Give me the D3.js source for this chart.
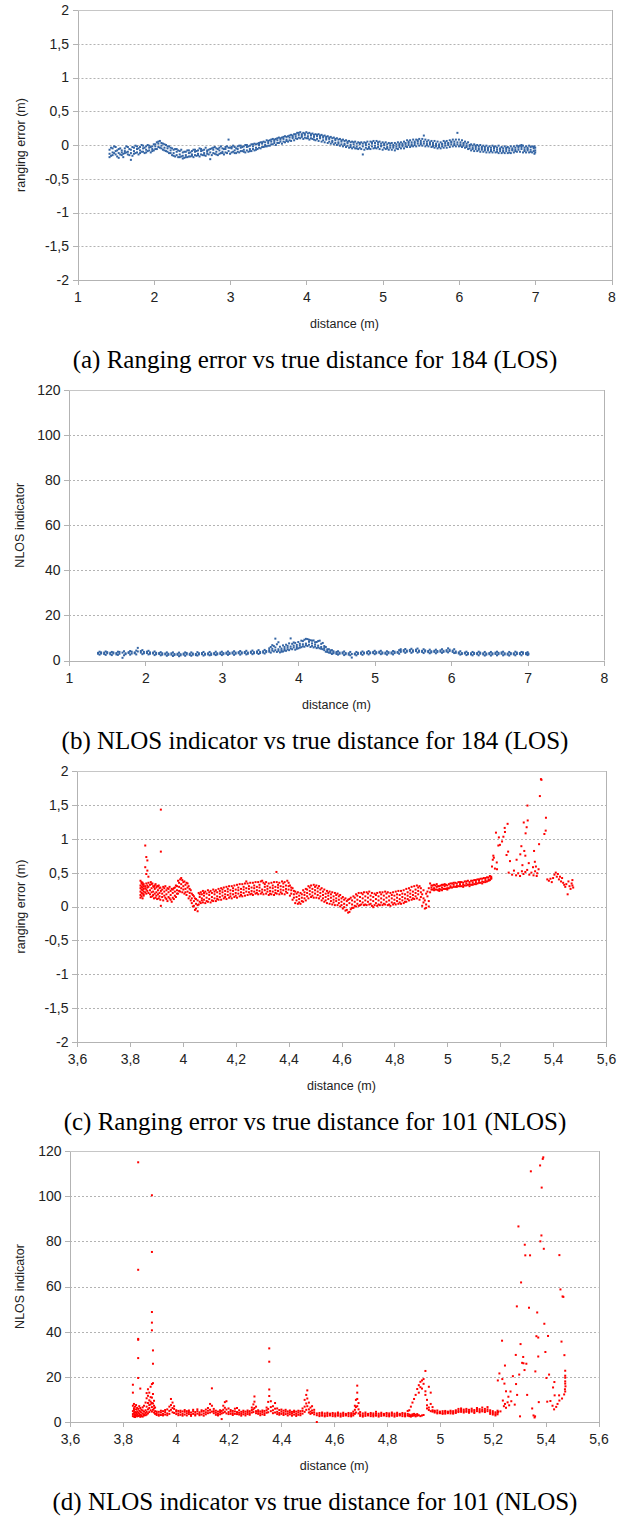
<!DOCTYPE html>
<html><head><meta charset="utf-8">
<script src="https://cdn.jsdelivr.net/npm/d3@7"></script>
<style>body{margin:0;background:#fff}svg{display:block}</style>
</head><body>
<script>
// ---------- tick values ----------
const xTicksLOS = [1, 2, 3, 4, 5, 6, 7, 8];
const xTicksNLOS = [3.6, 3.8, 4, 4.2, 4.4, 4.6, 4.8, 5, 5.2, 5.4, 5.6];
const yTicksErr = [-2, -1.5, -1, -0.5, 0, 0.5, 1, 1.5, 2];
const yTicksInd = [0, 20, 40, 60, 80, 100, 120];
const captions = [
  "(a) Ranging error vs true distance for 184 (LOS)",
  "(b) NLOS indicator vs true distance for 184 (LOS)",
  "(c) Ranging error vs true distance for 101 (NLOS)",
  "(d) NLOS indicator vs true distance for 101 (NLOS)"
];
const yTitleErr = "ranging error (m)";
const yTitleInd = "NLOS indicator";
const xTitle = "distance (m)";

// ---------- (a) ranging error, LOS : [distance, error, error, ...] ----------
const errLOS = [
[1.42,-.07,-.13,-.18],[1.46,-.11,-.05,-.15],[1.50,-.09,-.14,-.03],[1.54,-.12,-.06,-.19],[1.58,-.08,-.15,-.11],
[1.62,-.05,-.12,-.09],[1.66,-.10,-.03,-.14],[1.70,-.07,-.12,-.22],[1.74,-.09,-.04,-.13],[1.78,-.06,-.11,-.02],
[1.82,-.08,-.03,-.12],[1.86,-.05,-.10,-.01],[1.90,-.07,-.02,-.11],[1.94,-.04,-.08,-.01],[1.98,-.06,-.02,-.09],
[2.02,-.02,-.06,.01],[2.06,.02,-.03,.05],[2.10,-.01,.03,-.05],[2.14,-.04,.01,-.08],[2.18,-.05,-.10,-.02],
[2.22,-.08,-.12,-.04],[2.26,-.12,-.07,-.16],[2.30,-.10,-.15,-.06],[2.34,-.14,-.09,-.18],[2.38,-.11,-.16,-.20],
[2.42,-.15,-.10,-.18],[2.46,-.12,-.17,-.08],[2.50,-.14,-.09,-.16],[2.54,-.10,-.15,-.07],[2.58,-.13,-.08,-.15],
[2.62,-.09,-.14,-.06],[2.66,-.12,-.07,-.15],[2.70,-.08,-.13,-.10],[2.74,-.11,-.06,-.21],[2.78,-.07,-.12,-.04],
[2.82,-.10,-.05,-.14],[2.86,-.08,-.13,-.04],[2.90,-.10,-.05,-.12],[2.94,-.06,-.11,-.03],[2.98,-.09,-.04,.08],
[3.02,-.05,-.11,-.03],[3.06,-.08,-.03,-.12],[3.10,-.06,-.10,-.02],[3.14,-.04,-.09,-.01],[3.18,-.07,-.02,-.10],
[3.22,-.03,-.08,.00],[3.26,-.06,-.01,-.09],[3.30,-.02,-.06,.01],[3.34,-.04,.01,-.07],[3.38,.00,-.04,.03],
[3.42,.02,-.03,.04],[3.46,.00,.04,-.02],[3.50,.03,.06,-.01],[3.54,.05,.01,.08],[3.58,.03,.08,.06],
[3.62,.07,.03,.10],[3.66,.05,.10,.08],[3.70,.09,.05,.12],[3.74,.08,.12,.06],[3.78,.11,.07,.14],
[3.82,.10,.14,.12],[3.86,.13,.10,.16],[3.90,.15,.11,.18],[3.94,.12,.16,.14],[3.98,.15,.11,.17],
[4.02,.13,.17,.10],[4.06,.14,.10,.16],[4.10,.12,.15,.08],[4.14,.13,.09,.15],[4.18,.10,.14,.12],
[4.22,.11,.07,.13],[4.26,.08,.12,.10],[4.30,.09,.05,.11],[4.34,.06,.10,.04],[4.38,.07,.03,.09],
[4.42,.04,.08,.02],[4.46,.05,.01,.07],[4.50,.02,.06,.00],[4.54,.03,-.01,.05],[4.58,.00,.04,-.03],
[4.62,.01,-.03,.04],[4.66,-.02,.02,-.05],[4.70,.01,-.04,.03],[4.74,-.02,.02,-.14],[4.78,.00,-.04,.03],
[4.82,-.03,.01,-.05],[4.86,.02,-.02,.04],[4.90,-.01,.03,-.04],[4.94,.01,-.03,.04],[4.98,-.02,.02,-.01],
[5.02,.00,-.04,.02],[5.06,-.03,.01,-.05],[5.10,-.01,-.04,.02],[5.14,-.04,.00,-.02],[5.18,-.02,-.05,.01],
[5.22,.00,-.03,.02],[5.26,-.02,.02,.00],[5.30,.01,-.02,.03],[5.34,.03,.00,.05],[5.38,.01,.04,-.01],
[5.42,.03,.00,.05],[5.46,.05,.02,.07],[5.50,.03,.06,.01],[5.54,.05,.02,.14],[5.58,.02,.05,.00],
[5.62,.04,.01,.02],[5.66,.00,.03,-.02],[5.70,.02,-.02,.00],[5.74,-.01,.01,-.03],[5.78,.01,-.02,.02],
[5.82,.02,-.01,.04],[5.86,.00,.03,.02],[5.90,.04,.01,.05],[5.94,.02,.05,.00],[5.98,.04,.01,.18],
[6.02,.01,.04,-.01],[6.06,.03,-.01,.01],[6.10,-.01,.02,-.03],[6.14,-.02,-.05,.00],[6.18,-.04,-.01,-.06],
[6.22,-.03,-.06,-.01],[6.26,-.05,-.02,-.07],[6.30,-.03,-.07,-.05],[6.34,-.06,-.03,-.08],[6.38,-.04,-.08,-.06],
[6.42,-.07,-.04,-.09],[6.46,-.05,-.08,-.03],[6.50,-.07,-.04,-.10],[6.54,-.05,-.09,-.06],[6.58,-.08,-.05,-.10],
[6.62,-.06,-.09,-.04],[6.66,-.08,-.05,-.11],[6.70,-.05,-.08,-.07],[6.74,-.07,-.04,-.09],[6.78,-.04,-.07,-.02],
[6.82,-.06,-.03,.00],[6.86,-.07,-.04,-.09],[6.90,-.04,-.08,-.06],[6.94,-.07,-.03,-.10],[6.98,-.05,-.09,-.03],
[7.00,-.08,-.04,-.11],
[1.44,-.16,-.04],[1.48,-.02,-.12],[1.52,-.17,-.08],[1.56,-.05,-.14],[1.60,-.13,-.18],[1.64,-.02,-.11],[1.68,-.15,-.06],
[1.72,-.03,-.16],[1.76,-.12,-.01],[1.80,-.14,-.05],[1.84,.00,-.10],[1.88,-.12,-.04],[1.92,-.09,.00],[1.96,-.11,-.03],
[2.00,.01,-.08],[2.04,-.06,.04],[2.08,-.04,.06],[2.12,.02,-.07],[2.16,-.09,.00],[2.20,-.02,-.12],[2.24,-.15,-.05],
[2.28,-.06,-.17],[2.32,-.18,-.08],[2.36,-.07,-.17],[2.40,-.19,-.10],[2.44,-.08,-.18],[2.48,-.17,-.11],[2.52,-.07,-.18],
[2.56,-.16,-.09],[2.60,-.05,-.17],[2.64,-.15,-.08],[2.68,-.04,-.16],[2.72,-.14,-.07],[2.76,-.05,-.15],[2.80,-.13,-.03],
[2.84,-.06,-.15],[2.88,-.12,-.02],[2.92,-.14,-.06],[2.96,-.02,-.12],[3.00,-.13,-.04],[3.04,-.01,-.10],[3.08,-.12,-.05],
[3.12,-.01,-.11],[3.16,-.09,-.03],[3.20,-.11,.00],[3.24,-.02,-.10],[3.28,-.09,.01],[3.32,.02,-.08],[3.36,-.06,.02],
[3.40,.04,-.05],[3.44,-.03,.05],[3.48,.07,-.02],[3.52,-.01,.07],[3.56,.09,.01],[3.60,.00,.09],[3.64,.11,.03],
[3.68,.02,.11],[3.72,.13,.04],[3.76,.05,.13],[3.80,.15,.06],[3.84,.07,.16],[3.88,.18,.09],[3.92,.10,.19],
[3.96,.18,.09],[4.00,.10,.19],[4.04,.18,.08],[4.08,.09,.17],[4.12,.16,.07],[4.16,.06,.16],[4.20,.15,.05],
[4.24,.04,.14],[4.28,.13,.03],[4.32,.02,.12],[4.36,.11,.01],[4.40,.00,.10],[4.44,.09,-.01],[4.48,-.02,.08],
[4.52,.07,-.03],[4.56,-.04,.06],[4.60,.05,-.05],[4.64,-.05,.05],[4.68,.04,-.06],[4.72,-.06,.04],[4.76,.04,-.07],
[4.80,-.06,.05],[4.84,.05,-.06],[4.88,-.05,.06],[4.92,.06,-.05],[4.96,-.06,.05],[5.00,.04,-.07],[5.04,-.06,.04],
[5.08,.03,-.07],[5.12,-.07,.03],[5.16,.03,-.08],[5.20,-.06,.04],[5.24,.04,-.05],[5.28,-.05,.05],[5.32,.07,-.03],
[5.36,-.03,.07],[5.40,.08,-.02],[5.44,-.02,.08],[5.48,.09,-.01],[5.52,-.01,.09],[5.56,.08,-.02],[5.60,-.02,.07],
[5.64,.06,-.03],[5.68,-.04,.06],[5.72,.05,-.05],[5.76,-.05,.04],[5.80,.06,-.04],[5.84,-.04,.06],[5.88,.07,-.03],
[5.92,-.02,.08],[5.96,.08,-.02],[6.00,-.02,.08],[6.04,.07,-.03],[6.08,-.04,.05],[6.12,.04,-.06],[6.16,-.08,.01],
[6.20,.01,-.09],[6.24,-.09,.00],[6.28,.00,-.10],[6.32,-.10,-.01],[6.36,-.01,-.11],[6.40,-.11,-.02],[6.44,-.01,-.11],
[6.48,-.11,-.02],[6.52,-.01,-.12],[6.56,-.12,-.03],[6.60,-.02,-.12],[6.64,-.12,-.03],[6.68,-.02,-.12],[6.72,-.11,-.02],
[6.76,-.01,-.10],[6.80,-.10,-.01],[6.84,-.01,-.11],[6.88,-.11,-.02],[6.92,-.01,-.11],[6.96,-.11,-.02],[6.99,-.02,-.13]
];

// ---------- (b) NLOS indicator, LOS ----------
const indLOS = [
[1.38,3.4,3.0],[1.42,3.1,3.6],[1.46,3.5,2.9],[1.50,3.2,3.7],[1.54,2.8,3.4],[1.58,3.6,3.1],[1.62,3.3,2.7],
[1.66,3.0,3.8],[1.70,3.5,1.2],[1.74,3.2,2.8],[1.78,3.7,3.3],[1.82,3.1,3.9],[1.86,3.6,3.2],[1.90,4.0,5.6],
[1.94,3.5,4.2],[1.98,3.8,3.2],[2.02,3.3,3.9],[2.06,3.6,3.0],[2.10,3.1,3.5],[2.14,3.4,2.8],[2.18,2.9,3.3],
[2.22,3.2,2.6],[2.26,2.7,3.1],[2.30,3.0,2.5],[2.34,2.6,3.2],[2.38,2.9,2.4],[2.42,2.5,3.0],[2.46,2.8,2.3],
[2.50,3.1,2.6],[2.54,2.7,3.3],[2.58,3.0,2.5],[2.62,2.6,3.1],[2.66,2.9,2.4],[2.70,3.2,2.7],[2.74,2.8,3.3],
[2.78,3.0,2.6],[2.82,2.7,3.2],[2.86,3.1,2.5],[2.90,2.8,3.3],[2.94,3.2,2.7],[2.98,2.9,3.5],[3.02,3.3,2.8],
[3.06,3.0,3.5],[3.10,3.4,2.9],[3.14,3.1,3.6],[3.18,3.5,3.0],[3.22,3.2,3.7],[3.26,3.6,3.1],[3.30,3.3,3.8],
[3.34,3.0,3.5],[3.38,3.4,3.9],[3.42,3.7,3.2],[3.46,3.4,4.0],[3.50,3.8,3.3],[3.54,3.5,4.1],[3.58,4.2,3.7],
[3.62,4.6,3.9,5.4],[3.66,5.2,4.4,6.8],[3.70,9.7,5.8,4.6],[3.74,5.0,8.1,4.3],[3.78,4.6,5.3,3.9],
[3.82,5.1,4.4,6.0],[3.86,5.7,4.9,6.5],[3.90,6.2,5.3,9.8],[3.94,5.8,8.0,6.6],[3.98,6.0,5.2,6.9],
[4.02,6.6,5.7,7.4],[4.06,7.2,6.3,8.6],[4.10,9.6,7.5,6.8],[4.14,8.3,7.0,9.2],[4.18,7.6,6.5,8.8],
[4.22,7.1,6.2,8.1],[4.26,6.6,8.6,5.8],[4.30,7.4,6.0,5.2],[4.34,5.5,4.6,6.4],[4.38,4.4,3.8,5.0],
[4.42,3.9,4.5,3.4],[4.46,3.6,4.1,3.2],[4.50,3.3,3.8,2.9],[4.54,3.5,3.0],[4.58,3.1,3.6],[4.62,2.8,3.3],
[4.66,3.2,2.6],[4.70,2.9,1.3],[4.74,3.1,2.7],[4.78,3.4,2.9],[4.82,3.0,3.5],[4.86,3.5,3.1],[4.90,3.2,3.7],
[4.94,3.6,3.2],[4.98,3.3,3.8],[5.02,3.7,3.2],[5.06,3.4,3.9],[5.10,3.1,3.6],[5.14,3.5,3.0],[5.18,3.2,3.7],
[5.22,3.6,3.1],[5.26,3.3,3.9],[5.30,3.8,3.4],[5.34,4.3,3.8,5.0],[5.38,4.0,4.6],[5.42,4.4,3.9],[5.46,4.1,4.7],
[5.50,4.5,3.9],[5.54,4.2,4.8],[5.58,3.9,4.4],[5.62,4.3,3.8],[5.66,4.0,4.5],[5.70,3.7,4.2],[5.74,4.1,3.6],
[5.78,3.8,4.3],[5.82,4.2,3.7],[5.86,3.9,4.5],[5.90,4.3,3.8],[5.94,4.6,4.0],[5.98,4.8,4.2],[6.02,4.4,3.8],
[6.06,4.0,3.4],[6.10,3.6,3.1],[6.14,3.3,2.9],[6.18,3.1,3.5],[6.22,2.8,3.3],[6.26,3.2,2.7],[6.30,2.9,3.4],
[6.34,3.3,2.8],[6.38,3.0,3.5],[6.42,2.7,3.2],[6.46,3.1,2.6],[6.50,2.8,3.3],[6.54,3.2,2.7],[6.58,2.9,3.5],
[6.62,3.4,2.8],[6.66,3.0,3.6],[6.70,2.7,3.2],[6.74,3.1,2.6],[6.78,2.8,3.3],[6.82,3.2,2.7],[6.86,2.9,3.5],
[6.90,3.3,2.8],[6.94,3.0,3.6],[6.98,2.8,3.3],[7.01,3.1,2.7],
[1.40,2.6,3.9],[1.48,4.0,2.5],[1.56,2.4,3.8],[1.64,3.9,2.5],[1.72,2.3,4.1],[1.80,4.2,2.6],[1.88,2.7,4.4],
[1.96,4.6,2.8],[2.04,2.7,4.3],[2.12,4.0,2.4],[2.20,2.3,3.7],[2.28,3.6,2.1],[2.36,2.0,3.6],[2.44,3.5,1.9],
[2.52,2.1,3.6],[2.60,3.6,2.1],[2.68,2.2,3.7],[2.76,3.8,2.2],[2.84,2.3,3.8],[2.92,3.9,2.4],[3.00,2.4,3.9],
[3.08,4.0,2.5],[3.16,2.5,4.1],[3.24,4.2,2.6],[3.32,2.7,4.3],[3.40,4.4,2.8],[3.48,2.9,4.6],[3.56,4.7,3.1],
[3.64,3.5,6.0],[3.68,6.4,4.0],[3.72,3.8,7.2],[3.76,6.1,3.6],[3.80,4.0,6.7],[3.84,7.0,4.3],[3.88,4.6,7.6],
[3.92,7.4,5.0],[3.96,4.8,7.8],[4.00,8.2,5.4],[4.04,5.9,8.8],[4.08,9.2,6.1],[4.12,6.4,9.5],[4.16,9.0,6.0],
[4.20,5.8,8.9],[4.24,8.2,5.5],[4.28,8.8,5.4],[4.32,5.0,7.8],[4.36,6.0,3.9],[4.40,3.5,5.0],[4.44,4.6,2.9],
[4.52,2.6,4.1],[4.60,4.0,2.4],[4.68,2.3,3.8],[4.76,3.8,2.3],[4.84,2.5,4.0],[4.92,4.2,2.7],[5.00,2.8,4.3],
[5.08,4.3,2.8],[5.16,2.6,4.1],[5.24,4.2,2.7],[5.32,3.0,4.6],[5.40,5.1,3.4],[5.48,3.4,5.2],[5.56,5.3,3.5],
[5.64,3.3,5.0],[5.72,4.8,3.2],[5.80,3.2,4.8],[5.88,5.0,3.4],[5.96,3.6,5.4],[6.04,5.0,3.3],[6.12,4.1,2.6],
[6.20,2.4,3.9],[6.28,3.8,2.3],[6.36,2.3,3.9],[6.44,3.8,2.2],[6.52,2.2,3.8],[6.60,3.9,2.3],[6.68,2.3,3.9],
[6.76,3.8,2.2],[6.84,2.3,3.9],[6.92,3.8,2.3],[7.00,2.4,3.7]
];

// ---------- (c) ranging error, NLOS ----------
const errNLOS = [
[3.840,.13,.22,.31,.38,.17,.27],[3.844,.15,.25,.34,.20,.29,.36],[3.848,.12,.19,.28,.35,.24,.32],[3.852,.18,.26,.33,.22,.30,.16],
[3.858,.21,.30,.27,.90,.58],[3.862,.25,.34,.19,.73,.48],[3.866,.23,.31,.28,.68,.53],[3.870,.20,.29,.35,.44],
[3.876,.24,.32,.18],[3.882,.27,.21,.33],[3.888,.22,.30,.17],[3.894,.26,.19,.31],[3.900,.21,.28,.16],[3.906,.24,.18,.30],
[3.912,.20,.27,.15],[3.917,.23,1.43,.81,.01],[3.922,.19,.25,.14],[3.930,.22,.16,.27],[3.938,.18,.24,.11],[3.946,.21,.14,.26],
[3.954,.17,.23,.10],[3.962,.20,.13,.25],[3.970,.16,.22,.28],[3.978,.24,.30,.19],[3.986,.29,.35,.23],[3.994,.33,.27,.42],
[4.002,.30,.36,.25],[4.010,.26,.32,.21],[4.018,.28,.22,.34],[4.026,.20,.26,.15],[4.034,.12,.19,.05],[4.042,.08,.15,.01],
[4.050,.04,-.03,.11],[4.056,.09,-.07,.02],[4.064,.14,.07,.18],[4.072,.12,.18,.09],[4.080,.16,.10,.20],[4.090,.13,.19,.08],
[4.100,.17,.11,.21],[4.110,.14,.20,.09],[4.120,.18,.12,.22],[4.130,.15,.21,.11],[4.140,.19,.14,.23],[4.150,.21,.16,.25],
[4.160,.18,.23,.14],[4.170,.22,.17,.26],[4.180,.19,.24,.15],[4.190,.23,.18,.27],[4.200,.20,.25,.16],[4.210,.24,.19,.28],
[4.220,.21,.26,.17],[4.230,.25,.20,.29],[4.240,.22,.27,.37],[4.250,.26,.21,.30],[4.260,.23,.28,.19],[4.270,.27,.22,.31],
[4.280,.24,.29,.20],[4.290,.28,.23,.32],[4.300,.25,.21,.38],[4.310,.29,.24,.33],[4.320,.26,.22,.30],[4.330,.23,.28,.19],
[4.340,.27,.31,.22],[4.350,.24,.29,.20],[4.354,.51],[4.360,.28,.23,.32],[4.370,.25,.30,.21],[4.380,.29,.24,.34],
[4.390,.26,.31,.22],[4.400,.30,.25,.35],[4.410,.24,.19,.28],[4.420,.18,.13,.23],[4.430,.14,.09,.19],[4.440,.16,.11,.06],
[4.450,.13,.18,.08],[4.460,.17,.12,.21],[4.470,.20,.15,.25],[4.480,.23,.18,.28],[4.490,.21,.26,.16],[4.500,.24,.19,.29],
[4.510,.22,.27,.17],[4.520,.20,.25,.15],[4.530,.17,.22,.12],[4.540,.14,.19,.09],[4.550,.16,.11,.20],[4.560,.13,.08,.18],
[4.570,.15,.10,.06],[4.580,.12,.17,.08],[4.590,.10,.15,.05],[4.600,.07,.12,.02],[4.610,.04,.10,-.01],[4.620,.02,.08,-.05],
[4.630,.05,-.08,.11],[4.640,.03,.09,-.02],[4.650,.07,.13,.01],[4.660,.10,.04,.16],[4.670,.08,.14,.02],[4.680,.12,.06,.18],
[4.690,.09,.15,.03],[4.700,.13,.07,.19],[4.710,.10,.16,.04],[4.720,.08,.14,-.01],[4.730,.11,.05,.17],[4.740,.09,.15,.03],
[4.750,.12,.06,.18],[4.760,.10,.16,.04],[4.770,.13,.07,.19],[4.780,.09,.15,.03],[4.790,.12,.06,.17],[4.800,.10,.16,.05],
[4.810,.13,.08,.18],[4.820,.11,.17,.06],[4.830,.14,.09,.19],[4.840,.12,.18,.07],[4.850,.16,.11,.21],[4.860,.19,.14,.24],
[4.870,.17,.22,.12],[4.880,.20,.15,.25],[4.890,.18,.23,.28],[4.900,.21,.14,.27],[4.910,.12,.24,.06],[4.920,.03,.19,-.02],
[4.930,.08,.27,.00],[4.940,.28,.31,.25],[4.950,.27,.32,.24],[4.960,.29,.25,.33],[4.970,.26,.30,.23],[4.980,.28,.24,.32],
[4.990,.30,.26,.33],[5.000,.27,.31,.25],[5.012,.30,.34,.28],[5.024,.32,.29,.35],[5.036,.31,.34,.29],[5.048,.33,.30,.36],
[5.060,.32,.35,.29],[5.072,.34,.31,.37],[5.084,.33,.36,.30],[5.096,.35,.38,.32],[5.108,.36,.33,.39],[5.120,.35,.38,.40],
[5.132,.37,.34,.41],[5.144,.39,.36,.42],[5.156,.40,.43,.38],[5.166,.42,.41,.44],
[3.879,.14,.36],[3.885,.34,.15],[3.891,.12,.29],[3.897,.33,.13],[3.903,.11,.30],[3.909,.31,.12],[3.915,.10,.28],
[3.926,.29,.09],[3.934,.13,.30],[3.942,.27,.08],[3.950,.12,.29],[3.958,.26,.07],[3.966,.11,.27],[3.974,.31,.14],
[3.982,.19,.38],[3.990,.40,.22],[3.998,.21,.39],[4.006,.37,.19],[4.014,.17,.35],[4.022,.30,.12],[4.030,.09,.24],
[4.038,.00,.17],[4.046,.12,-.05],[4.060,.03,.20],[4.068,.21,.05],[4.076,.06,.23],[4.085,.22,.05],[4.095,.07,.24],
[4.105,.23,.06],[4.115,.08,.25],[4.125,.24,.08],[4.135,.10,.26],[4.145,.27,.10],[4.155,.12,.28],[4.165,.29,.11],
[4.175,.13,.30],[4.185,.30,.12],[4.195,.14,.31],[4.205,.32,.13],[4.215,.15,.33],[4.225,.33,.15],[4.235,.16,.34],
[4.245,.34,.17],[4.255,.18,.35],[4.265,.35,.17],[4.275,.19,.36],[4.285,.36,.18],[4.295,.19,.37],[4.305,.35,.18],
[4.315,.19,.36],[4.325,.34,.17],[4.335,.18,.35],[4.345,.36,.17],[4.355,.19,.36],[4.365,.35,.18],[4.375,.19,.37],
[4.385,.36,.18],[4.395,.20,.38],[4.405,.31,.16],[4.415,.10,.27],[4.425,.22,.05],[4.435,.04,.21],[4.445,.20,.04],
[4.455,.07,.24],[4.465,.26,.09],[4.475,.12,.30],[4.485,.31,.14],[4.495,.13,.32],[4.505,.31,.13],[4.515,.12,.30],
[4.525,.27,.09],[4.535,.07,.25],[4.545,.23,.05],[4.555,.04,.22],[4.565,.21,.03],[4.575,.02,.20],[4.585,.19,.02],
[4.595,.00,.17],[4.605,.14,-.03],[4.615,-.06,.12],[4.625,.10,-.09],[4.635,-.04,.13],[4.645,.15,-.02],[4.655,.00,.18],
[4.665,.20,.01],[4.675,.03,.20],[4.685,.21,.02],[4.695,.02,.21],[4.705,.22,.03],[4.715,.01,.20],[4.725,.19,.02],
[4.735,.01,.20],[4.745,.21,.02],[4.755,.02,.21],[4.765,.22,.03],[4.775,.02,.21],[4.785,.20,.01],[4.795,.03,.21],
[4.805,.22,.03],[4.815,.04,.23],[4.825,.23,.04],[4.835,.05,.24],[4.845,.26,.07],[4.855,.09,.27],[4.865,.29,.10],
[4.875,.11,.30],[4.885,.31,.12],[4.895,.10,.30],[4.905,.18,.01],[4.915,.09,-.03],[4.925,.15,.22],[4.935,.21,.34],
[4.945,.31,.25],[4.955,.25,.31],[4.965,.30,.24],[4.975,.25,.31],[4.985,.32,.26],[4.995,.26,.32],[5.006,.33,.27],
[5.018,.28,.34],[5.030,.35,.29],[5.042,.30,.36],[5.054,.36,.30],[5.066,.31,.37],[5.078,.38,.32],[5.090,.32,.38],
[5.102,.39,.33],[5.114,.34,.40],[5.126,.41,.35],[5.138,.36,.42],[5.150,.43,.37],[5.161,.39,.45]
];
const errNLOSScatter = [
[5.169,.59],[5.172,.69],[5.174,.75],[5.176,.72],[5.180,.56],[5.184,1.09],[5.187,.65],[5.188,.55],[5.193,.90],[5.195,1.02],
[5.199,.91],[5.207,.96],[5.212,1.03],[5.217,1.16],[5.218,1.10],[5.224,.76],[5.228,1.22],[5.230,.81],[5.237,.67],[5.262,.69],
[5.276,.77],[5.280,.89],[5.284,.61],[5.289,1.24],[5.291,.82],[5.295,.75],[5.296,1.08],[5.300,1.17],[5.303,1.49],[5.304,1.27],
[5.308,.64],[5.324,.58],[5.328,.82],[5.331,.66],[5.335,.59],[5.347,.92],[5.350,1.63],[5.354,1.88],[5.356,1.87],[5.367,1.07],
[5.372,1.12],[5.373,1.31],
[5.232,.50],[5.245,.47],[5.252,.53],[5.260,.46],[5.268,.49],[5.275,.45],[5.282,.52],[5.288,.48],[5.295,.51],[5.302,.54],
[5.310,.47],[5.318,.50],[5.326,.46],[5.332,.52],[5.340,.49],[5.345,.55],[5.338,.45],
[5.378,.40],[5.384,.38],[5.390,.41],[5.395,.36],[5.400,.42],[5.405,.47],[5.410,.50],[5.414,.44],[5.418,.48],[5.422,.40],
[5.426,.44],[5.430,.37],[5.434,.42],[5.438,.35],[5.442,.32],[5.446,.29],[5.450,.33],[5.455,.18],[5.458,.37],[5.462,.30],
[5.466,.26],[5.470,.34],[5.473,.39],[5.476,.28],[5.473,.31]
];

// ---------- (d) NLOS indicator, NLOS ----------
const indNLOS = [
[3.838,2.6,4.8,7.2,3.5,16.5,13.0],[3.842,3.9,6.1,2.4,5.3,8.0],[3.846,2.2,4.4,6.8,3.1],[3.850,5.6,2.9,4.0,7.5],
[3.854,3.4,6.3,2.5,4.7],[3.858,4.1,2.7,5.8,36.4,28.3,19.5,67.4,115.0,36.8],[3.862,2.8,5.0,7.0,3.6],
[3.866,4.5,2.3,6.2,3.2,14.8],[3.870,3.0,5.4,2.6,4.2],[3.875,6.5,3.7,2.4,5.1],[3.880,2.9,4.6,3.4,7.2],
[3.886,5.2,3.0,8.6,4.0],[3.890,6.8,10.5,4.5,12.8,3.3],[3.895,8.4,5.6,11.6,3.8,14.5],[3.900,9.6,6.2,13.0,4.4,7.5],
[3.905,7.8,11.0,5.2,15.6,9.0],[3.910,10.8,6.6,8.4,16.8,4.6,40.6,44.0,48.7,75.3,100.4],[3.914,8.2,12.4,5.4,31.7,25.8,17.2],
[3.918,6.0,9.4,4.2,7.2],[3.922,4.8,3.6,6.4],[3.928,3.9,3.1,4.6],
[3.936,3.4,4.5,2.8],[3.944,4.2,3.1,5.0],[3.952,3.6,4.8,2.9],[3.960,4.4,3.3,5.3],[3.968,3.8,5.6,3.0],[3.976,4.9,6.8,3.6],
[3.982,7.5,10.2,5.4],[3.988,8.6,6.2,4.3],[3.994,5.8,4.0,7.0],[4.002,4.6,3.5,5.2],[4.010,3.8,4.9,3.0],[4.018,4.3,3.2,5.0],
[4.026,3.6,4.7,2.8],[4.034,4.5,3.3,5.3],[4.042,3.9,2.9,4.8],[4.050,4.4,3.5,5.1],[4.058,3.2,4.2,2.7],[4.066,4.7,3.6,5.4],
[4.074,3.4,4.4,2.9],[4.082,4.8,3.7,5.6],[4.090,3.5,4.3,3.0],[4.098,4.6,3.3,5.2],[4.106,3.8,4.9,2.8],[4.114,4.3,3.4,5.5],
[4.122,5.0,3.9,6.2],[4.130,4.2,8.0,5.4],[4.137,14.9,7.2,4.6],[4.144,5.8,3.9,4.8],[4.152,4.1,3.2,5.0],[4.160,3.6,4.6,2.9],
[4.168,4.4,3.4,5.2],[4.174,3.8,1.3,4.9],[4.180,5.4,7.2,4.1],[4.186,8.8,6.3,4.5],[4.192,9.2,5.5,3.8],[4.200,6.0,4.4,3.5],
[4.208,4.6,3.6,5.3],[4.216,3.9,4.9,3.1],[4.224,4.7,5.9,3.6],[4.232,6.2,4.4,3.5],[4.240,4.1,5.2,3.3],[4.248,3.6,4.5,2.8],
[4.256,4.3,3.4,5.0],[4.264,3.7,4.6,2.9],[4.272,4.4,3.5,5.1],[4.280,3.9,4.8,3.2],[4.288,5.3,4.2,6.4],[4.294,7.8,5.6,4.4],
[4.298,11.3,9.0,6.2],[4.304,6.8,4.8,3.9],[4.312,4.5,3.6,5.2],[4.320,3.8,4.7,3.0],[4.328,4.4,3.4,5.1],[4.336,3.9,4.9,3.1],
[4.344,5.2,4.1,6.4],[4.350,8.9,5.8,4.3],[4.354,32.6,26.7,14.4,11.5],[4.360,9.2,6.6,4.8],[4.368,7.0,5.2,3.9],
[4.376,8.4,5.9,4.2],[4.384,6.0,4.5,3.5],[4.392,5.3,4.0,3.2],[4.400,4.6,3.6,5.5],[4.408,4.0,5.0,3.1],[4.416,4.6,3.5,5.4],
[4.424,3.8,4.7,2.9],[4.432,4.3,3.4,5.1],[4.440,3.7,4.5,2.8],[4.448,4.4,3.3,5.0],[4.456,3.6,4.6,2.7],[4.464,4.2,3.2,5.0],
[4.472,3.8,4.8,3.0],[4.480,4.9,3.7,6.0],[4.488,6.8,4.5,9.8],[4.494,12.0,8.2,5.4],[4.498,14.0,10.4,7.0],[4.504,8.6,5.6,4.2],
[4.510,6.4,4.6,3.6],[4.516,7.0,5.1,4.0],[4.524,5.4,4.3,3.4],[4.534,3.8,0.0,3.0],
[4.544,3.2,4.0,2.6],[4.554,3.6,2.8,4.2],[4.564,3.0,3.8,2.5],[4.574,3.5,2.7,4.1],[4.584,2.9,3.7,3.2],[4.594,3.4,2.6,4.0],
[4.604,3.1,3.8,2.5],[4.614,3.6,2.8,4.2],[4.624,3.0,3.7,2.4],[4.634,3.5,2.7,4.1],[4.644,2.9,3.6,3.2],[4.654,3.4,2.6,4.0],
[4.664,3.1,3.9,2.5],[4.672,3.7,2.9,4.6],[4.678,5.4,3.6,7.2],[4.682,9.8,6.6,4.2],[4.687,16.1,13.0,10.2,7.0],[4.692,5.6,3.8,8.4],
[4.698,3.4,4.4,2.7],[4.708,3.0,3.8,2.4],[4.718,3.5,2.7,4.2],[4.728,2.9,3.6,3.2],[4.738,3.4,2.6,4.0],[4.748,3.1,3.8,2.5],
[4.758,3.6,4.5,2.8],[4.768,3.0,3.7,2.4],[4.778,3.5,2.7,4.1],[4.788,2.9,3.6,3.2],[4.798,3.4,2.6,4.0],[4.808,3.1,3.8,2.5],
[4.818,3.6,2.8,4.2],[4.828,3.0,3.7,2.4],[4.838,3.5,2.7,4.1],[4.848,2.9,3.6,3.2],[4.858,3.4,2.6,4.0],[4.868,3.1,3.8,2.5],
[4.878,3.6,2.8,4.9],[4.884,5.2,3.3,2.6],[4.890,6.8,3.0,2.4],[4.896,8.6,3.4,2.7],[4.902,10.2,2.9,3.6],[4.908,12.0,3.2,2.5],
[4.914,14.6,3.5,2.8],[4.920,16.3,3.0,13.0],[4.926,17.8,2.6,15.4],[4.932,18.4,14.8,2.9],[4.938,16.9,3.1,19.0],
[4.945,22.6,13.6,12.0],[4.951,9.8,6.0,7.4],[4.958,6.4,15.6,5.3],[4.965,13.0,8.0,4.8],[4.972,6.6,5.2,4.6],[4.980,5.0,4.2,4.7],
[4.990,4.3,3.8,5.1],[5.000,4.6,3.9,4.2],[5.010,4.0,4.8,3.6],[5.020,4.4,3.7,4.9],[5.030,3.9,4.6,4.2],[5.040,4.5,3.8,5.0],
[5.050,4.1,4.8,3.7],[5.060,4.6,4.0,5.2],[5.070,5.8,4.4,5.0],[5.080,5.3,6.0,4.5],[5.090,4.8,5.5,4.2],[5.100,5.1,4.5,5.8],
[5.110,4.7,5.4,4.1],[5.120,5.2,4.6,5.9],[5.130,4.6,5.3,4.0],[5.140,5.5,4.8,6.2],[5.150,4.9,5.7,4.3],[5.160,5.4,6.4,4.7],
[5.170,5.0,5.8,4.4],[5.180,5.6,4.8,6.6],[5.190,4.4,5.2,3.6],[5.200,4.0,3.3,4.8],[5.210,3.5,4.3,2.9],[5.218,4.1,3.4,5.0]
];
const indNLOSScatter = [
[5.391,117.2],[5.389,116.5],[5.379,113.6],[5.344,111.0],[5.385,103.8],[5.297,86.6],[5.384,82.6],[5.380,80.0],[5.321,78.5],
[5.393,76.7],[5.323,73.8],[5.341,73.8],[5.452,73.9],[5.307,61.8],[5.456,58.7],[5.464,55.6],[5.467,55.4],[5.291,51.2],
[5.337,50.6],[5.368,48.5],[5.395,43.5],[5.365,38.0],[5.372,37.4],[5.409,38.1],[5.235,36.0],[5.399,31.0],[5.460,35.6],
[5.287,29.7],[5.315,28.8],[5.311,26.2],[5.316,26.0],[5.372,29.0],[5.471,29.6],[5.327,25.8],[5.320,23.0],[5.225,21.5],
[5.300,21.0],[5.413,21.0],[5.403,19.5],[5.219,18.4],[5.236,19.0],[5.244,17.0],[5.361,22.4],[5.474,22.7],[5.474,19.6],
[5.474,18.0],[5.475,15.8],[5.474,13.5],[5.433,17.7],[5.288,16.8],[5.250,13.6],[5.292,12.0],[5.330,12.0],[5.428,15.3],
[5.434,11.8],[5.451,11.8],[5.238,9.5],[5.246,8.0],[5.242,7.0],[5.250,6.3],[5.256,8.7],[5.262,7.4],[5.270,9.2],[5.283,7.7],
[5.349,6.0],[5.354,2.9],[5.358,2.0],[5.360,2.5],[5.303,2.5],[5.374,8.8],[5.406,9.0],[5.418,9.3],[5.426,7.2],[5.440,6.7],
[5.432,5.6],[5.445,8.0],[5.452,9.5],[5.462,10.4],[5.470,12.2],[5.220,4.5],[5.229,4.7],[5.474,20.5],[5.474,17.0],
[5.473,14.5],[5.259,11.2],[5.267,13.5],[5.246,25.0],[5.276,20.3],[5.305,34.5]
];

// ---------- drawing ----------
const BLUE = "#3465a4", RED = "#ff0000", GRID = "#b3b3b3";
const svg = d3.select("body").append("svg").attr("width", 635).attr("height", 1518);
const fmt = d => String(+(+d).toFixed(2)).replace(".", ",");

function drawPanel(o) {
  const x = d3.scaleLinear().domain(o.xd).range([o.l, o.r]);
  const y = d3.scaleLinear().domain(o.yd).range([o.b, o.t]);
  const g = svg.append("g");
  g.append("g").selectAll("line").data(o.yt.filter(v => v !== o.yd[0])).join("line")
    .attr("x1", o.l).attr("x2", o.r)
    .attr("y1", d => Math.round(y(d)) + 0.5).attr("y2", d => Math.round(y(d)) + 0.5)
    .attr("stroke", GRID).attr("stroke-dasharray", "2,2");
  g.append("line").attr("x1", o.l).attr("x2", o.r).attr("y1", Math.round(o.t) + 0.5).attr("y2", Math.round(o.t) + 0.5)
    .attr("stroke", "#c6c6c6");
  g.append("line").attr("x1", Math.round(o.r) + 0.5).attr("x2", Math.round(o.r) + 0.5).attr("y1", o.t).attr("y2", o.b)
    .attr("stroke", GRID);
  const style = sel => {
    sel.select(".domain").attr("stroke", GRID).attr("shape-rendering", "crispEdges");
    sel.selectAll(".tick line").attr("stroke", GRID).attr("shape-rendering", "crispEdges");
    sel.selectAll("text").attr("fill", "#222").style("font-family", "'Liberation Sans', Arial, sans-serif").style("font-size", "14px");
  };
  g.append("g").attr("transform", `translate(0,${o.b})`)
    .call(d3.axisBottom(x).tickValues(o.xt).tickFormat(fmt).tickSize(5).tickSizeOuter(0).tickPadding(7.5)).call(style);
  g.append("g").attr("transform", `translate(${o.l},0)`)
    .call(d3.axisLeft(y).tickValues(o.yt).tickFormat(fmt).tickSize(5).tickSizeOuter(0).tickPadding(3.5)).call(style);
  const pts = [];
  o.cols.forEach(c => { for (let i = 1; i < c.length; i++) pts.push([c[0], c[i]]); });
  (o.extra || []).forEach(p => pts.push(p));
  g.append("g").selectAll("rect").data(pts).join("rect")
    .attr("x", d => x(d[0]) - 1).attr("y", d => y(d[1]) - 1)
    .attr("width", 2).attr("height", 2).attr("fill", o.color);
  g.append("text").attr("x", (o.l + o.r) / 2).attr("y", o.b + 48).attr("text-anchor", "middle")
    .style("font-family", "'Liberation Sans', Arial, sans-serif").style("font-size", "12.5px").attr("fill", "#222").text(xTitle);
  g.append("text").attr("transform", `translate(${o.ytx},${(o.t + o.b) / 2}) rotate(-90)`).attr("dy", "0.35em")
    .attr("text-anchor", "middle").style("font-family", "'Liberation Sans', Arial, sans-serif").style("font-size", "12.5px")
    .attr("fill", "#222").text(o.ytitle);
  g.append("text").attr("x", 315).attr("y", o.b + 88).attr("text-anchor", "middle")
    .style("font-family", "'Liberation Serif', 'Times New Roman', serif").style("font-size", "25px").attr("fill", "#000")
    .text(o.caption);
}

drawPanel({l: 77.5, r: 611.5, t: 10, b: 280, xd: [1, 8], yd: [-2, 2], xt: xTicksLOS, yt: yTicksErr,
  cols: errLOS, color: BLUE, ytitle: yTitleErr, ytx: 21, caption: captions[0]});
drawPanel({l: 69, r: 604, t: 390, b: 660.5, xd: [1, 8], yd: [0, 120], xt: xTicksLOS, yt: yTicksInd,
  cols: indLOS, color: BLUE, ytitle: yTitleInd, ytx: 20, caption: captions[1]});
drawPanel({l: 77, r: 606, t: 771, b: 1042, xd: [3.6, 5.6], yd: [-2, 2], xt: xTicksNLOS, yt: yTicksErr,
  cols: errNLOS, extra: errNLOSScatter, color: RED, ytitle: yTitleErr, ytx: 21, caption: captions[2]});
drawPanel({l: 70, r: 598.5, t: 1151, b: 1422, xd: [3.6, 5.6], yd: [0, 120], xt: xTicksNLOS, yt: yTicksInd,
  cols: indNLOS, extra: indNLOSScatter, color: RED, ytitle: yTitleInd, ytx: 20, caption: captions[3]});
</script>
</body></html>
